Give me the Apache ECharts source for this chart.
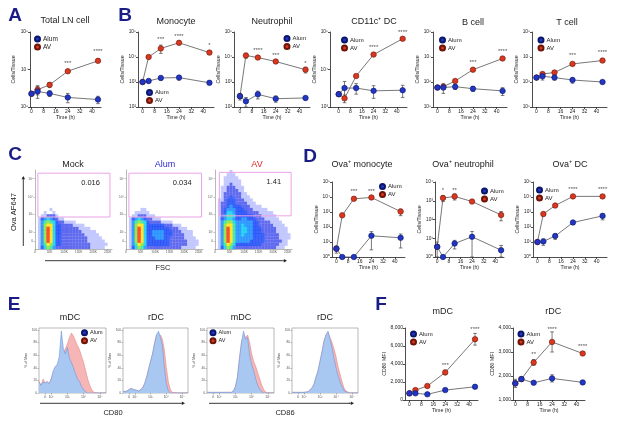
<!DOCTYPE html>
<html>
<head>
<meta charset="utf-8">
<script src="https://cdn.jsdelivr.net/npm/echarts@6.0.0/dist/echarts.min.js"></script>
<style>
html, body { margin: 0; padding: 0; background: #fff; }
#main { width: 617px; height: 425px; }
</style>
</head>
<body>
<div id="main"></div>
<script>
'use strict';

// ---- shared axes values ----
var times = [0, 4, 12, 24, 44];
var timeTicks = [0, 8, 16, 24, 32, 40];

// ---- A: total LN cells ----
var lnAlum = [2.25e6, 2.6e6, 2.3e6, 1.8e6, 1.58e6];
var lnAlumErr = [0.15e6, 0.9e6, 0.4e6, 0.5e6, 0.35e6];
var lnAV = [2.25e6, 2.9e6, 3.9e6, 9.0e6, 1.7e7];
var lnAVErr = [0, 0.8e6, 0.6e6, 0.8e6, 1.2e6];
var lnStars = [[24, 1.5e7, '***'], [44, 3.0e7, '****']];

// ---- B: cell subsets ----
var monoAlum = [1.0e3, 1.1e3, 1.45e3, 1.5e3, 0.93e3];
var monoAlumErr = [0.1e3, 0.2e3, 0.25e3, 0.3e3, 0.15e3];
var monoAV = [1.0e3, 1.0e4, 2.2e4, 3.7e4, 1.5e4];
var monoAVErr = [0, 0.15e4, 0.8e4, 0.6e4, 0.25e4];
var monoStars = [[12, 4.9e4, '***'], [24, 6.6e4, '****'], [44, 2.9e4, '*']];

var neutAlum = [270, 170, 320, 215, 230];
var neutAlumErr = [80, 70, 110, 60, 40];
var neutAV = [270, 1.15e4, 9.5e3, 6.6e3, 3.1e3];
var neutAVErr = [0, 2500, 1200, 1000, 800];
var neutStars = [[12, 1.8e4, '****'], [24, 1.2e4, '***'], [44, 5.5e3, '*']];

var dcAlum = [2.2e3, 3.2e3, 3.2e3, 2.7e3, 2.8e3];
var dcAlumErr = [0.3e3, 1.6e3, 1.0e3, 1.0e3, 1.0e3];
var dcAV = [2.2e3, 1.7e3, 6.7e3, 2.5e4, 6.6e4];
var dcAVErr = [0, 0.4e3, 0.6e3, 2e3, 5e3];
var dcStars = [[24, 3.8e4, '****'], [44, 1.0e5, '****']];

var bAlum = [6e5, 6e5, 6.5e5, 5.4e5, 4.4e5];
var bAlumErr = [0.5e5, 2.5e5, 1.5e5, 1.2e5, 1.5e5];
var bAV = [6e5, 6.5e5, 1.1e6, 3.1e6, 8.7e6];
var bAVErr = [0, 1.5e5, 1e5, 3e5, 8e5];
var bStars = [[24, 6.3e6, '***'], [44, 1.7e7, '****']];

var tAlum = [1.5e6, 1.7e6, 1.5e6, 1.2e6, 1.0e6];
var tAlumErr = [0.1e6, 0.5e6, 0.3e6, 0.3e6, 0.15e6];
var tAV = [1.5e6, 2.1e6, 2.4e6, 5.3e6, 7.2e6];
var tAVErr = [0, 0.3e6, 0.3e6, 0.8e6, 0.7e6];
var tStars = [[24, 1.2e7, '***'], [44, 1.6e7, '****']];

// ---- D: Ova+ cells ----
var ovaMonoAlum = [3.6, 1, 1, 26, 19];
var ovaMonoAlumErr = [1.8, 0, 0, 23, 15];
var ovaMonoAV = [3.6, 600, 7600, 9300, 1070];
var ovaMonoAVErr = [0, 100, 1500, 2500, 500];
var ovaMonoStars = [[12, 2.4e4, '***'], [24, 2.4e4, '***']];

var ovaNeutAlum = [3.5, 1, 5.2, 12, 2.3];
var ovaNeutAlumErr = [2.8, 0, 2.5, 11, 1.8];
var ovaNeutAV = [3.5, 1400, 1700, 910, 175];
var ovaNeutAVErr = [0, 500, 600, 100, 90];
var ovaNeutStars = [[4, 3.4e3, '*'], [12, 3.4e3, '**']];

var ovaDcAlum = [10, 11, 25, 200, 550];
var ovaDcAlumErr = [2, 5, 10, 50, 250];
var ovaDcAV = [10, 740, 2700, 11000, 11000];
var ovaDcAVErr = [0, 200, 400, 1500, 2500];
var ovaDcStars = [[24, 3e4, '****'], [44, 3e4, '****']];

// ---- F: CD80 MFI ----
var mdcAlum = [740, 740, 630, 1100, 1470];
var mdcAlumErr = [100, 80, 60, 150, 150];
var mdcAV = [740, 1100, 1550, 3065, 6750];
var mdcAVErr = [0, 150, 150, 250, 650];
var mdcStars = [[24, 3870, '***'], [44, 7850, '****']];

var rdcAlum = [1693, 1871, 1718, 1900, 1734];
var rdcAlumErr = [170, 80, 50, 150, 70];
var rdcAV = [1693, 1871, 2564, 3419, 2938];
var rdcAVErr = [0, 80, 120, 420, 70];
var rdcStars = [[12, 2896, '**'], [24, 3946, '****'], [44, 3240, '****']];

// ---- C: flow density (level 0-9 per 10K FSC x 4-unit bin, top row first) ----
var fscTicks = [0, 50, 100, 150, 200, 250];
var fscLabels = ['0', '50K', '100K', '150K', '200K', '250K'];
var ovaTickPos = [10, 21.5, 44, 66, 89];
var ovaTickLabels = ['0', '10²', '10³', '10⁴', '10⁵'];

var flowMock = [
    '00000100000000000000000000',
    '00010010000000000000000000',
    '00112221000000000000000000',
    '01345432110000000000000000',
    '01467653221111000000000000',
    '01478853322221111000000000',
    '01479853322222211110000000',
    '01479853322222221111100000',
    '01479853322222222111110000',
    '01479853322222222211111000',
    '01479853322222222211111100',
    '01468753322222222221111110',
    '01357642222222222221111100'
];
var flowAlum = [
    '00000110000000000000000000',
    '00011111000000000000000000',
    '00112221110000000000000000',
    '01345432211100000000000000',
    '01467653222211110000000000',
    '01478853333332221110000000',
    '01479853333333322211100000',
    '01479853344443332221111000',
    '01479853344443332222111000',
    '01479853334443322222111100',
    '01479853333333322222211110',
    '01468753333333322222211110',
    '01357642222222222221111100'
];
var flowAV = [
    '00000100000000000000000000',
    '00001110000000000000000000',
    '00011111000000000000000000',
    '00011111100000000000000000',
    '00011211100000000000000000',
    '00112221110000000000000000',
    '00112222110000000000000000',
    '00122222211000000000000000',
    '00122322211100000000000000',
    '01123332221110000000000000',
    '01223332222111000000000000',
    '01223433322211110000000000',
    '01234443332221111100000000',
    '01235543333222211111000000',
    '01246653333332221111100000',
    '01345543344333222111110000',
    '01467754444443322221111000',
    '01478864454443322222111100',
    '01479864455443332222211110',
    '01479864455443332222211110',
    '01479864454443333222221111',
    '01479864444443333222221111',
    '01479864444433333222222110',
    '01468753333333332222221110',
    '01357642222222222222211100'
];
var gateMock = [10, 40.5, 258, 96];
var gateAlum = [10, 40.5, 260, 96];
var gateAV = [15, 42, 262, 97];

// ---- E: histograms (% of max per channel bin) ----
var histTickPos = [3, 6, 14, 22, 30];
var histTickLabels = ['0', '10²', '10³', '10⁴', '10⁵'];
var pctTicks = [0, 20, 40, 60, 80, 100];
var mdc80Alum = [18, 12, 17, 16, 18, 15, 22, 35, 42, 45, 58, 98, 70, 62, 72, 55, 48, 40, 30, 22, 18, 10, 5, 2, 0, 0, 0, 0, 0, 0, 0, 0, 0, 0];
var mdc80AV = [18, 12, 22, 16, 18, 15, 22, 32, 40, 45, 50, 55, 65, 70, 78, 88, 95, 90, 82, 75, 68, 58, 48, 35, 22, 12, 5, 1, 0, 0, 0, 0, 0, 0];
var rdc80Alum = [2, 3, 3, 4, 7, 8, 5, 3, 3, 4, 8, 15, 25, 38, 50, 62, 78, 92, 98, 88, 75, 40, 15, 4, 0, 0, 0, 0, 0, 0, 0, 0, 0, 0];
var rdc80AV = [2, 3, 3, 4, 7, 8, 5, 3, 3, 4, 8, 15, 25, 38, 50, 62, 78, 92, 95, 92, 85, 68, 40, 18, 6, 1, 0, 0, 0, 0, 0, 0, 0, 0];
var mdc86Alum = [1, 1, 1, 1, 1, 1, 1, 1, 1, 1, 1, 1, 1, 3, 10, 25, 55, 80, 98, 85, 88, 60, 45, 35, 22, 12, 6, 2, 0, 0, 0, 0, 0, 0];
var mdc86AV = [1, 1, 1, 1, 1, 1, 1, 1, 1, 1, 1, 1, 1, 3, 10, 25, 55, 80, 92, 88, 92, 80, 62, 50, 42, 32, 22, 12, 5, 1, 0, 0, 0, 0];
var rdc86Alum = [1, 1, 1, 1, 1, 1, 1, 1, 2, 5, 8, 14, 25, 35, 50, 65, 82, 92, 98, 85, 72, 55, 40, 28, 18, 10, 4, 1, 0, 0, 0, 0, 0, 0];
var rdc86AV = [1, 1, 1, 1, 1, 1, 1, 1, 2, 5, 8, 14, 25, 35, 50, 65, 82, 92, 96, 88, 80, 70, 58, 42, 30, 18, 8, 3, 0, 0, 0, 0, 0, 0];

// ---- styles ----
var FONT = 'Liberation Sans';
var INK = '#222';
var BLUE = '#2236c4', BLUE_EDGE = '#0c1668';
var RED = '#d9371f', RED_EDGE = '#6b1509';
var NAVY = '#1b1d86';
var FLOW_COLORS = ['#fff', 'rgba(40,60,250,0.35)', 'rgba(20,36,232,0.85)', '#0a3cf8', '#0a84ff',
    '#00c8f2', '#18e2a4', '#7ee22a', '#ffe000', '#ff2400'];
var SUP = ['⁰', '¹', '²', '³', '⁴', '⁵', '⁶', '⁷', '⁸', '⁹'];

var grids = [], xAxes = [], yAxes = [], series = [], legends = [], graphics = [];

function pow10Label(v) {
    return '10' + SUP[Math.round(Math.log10(v))];
}

function addGrid(rect, framed) {
    grids.push({
        left: rect[0], top: rect[1], width: rect[2], height: rect[3],
        show: !!framed, borderColor: '#8a8a8a', borderWidth: 0.6, backgroundColor: 'transparent'
    });
    return grids.length - 1;
}

function pairs(xs, ys) {
    return xs.map(function(x, i) { return [x, ys[i]]; });
}

function errData(xs, ys, es, floor) {
    var out = [];
    xs.forEach(function(x, i) {
        if (es[i] > 0) out.push([x, Math.max(ys[i] - es[i], floor), ys[i] + es[i]]);
    });
    return out;
}

function renderErr(params, api) {
    var lo = api.coord([api.value(0), api.value(1)]);
    var hi = api.coord([api.value(0), api.value(2)]);
    var w = 1.8;
    var st = {stroke: '#444', lineWidth: 0.7};
    return {
        type: 'group',
        children: [
            {type: 'line', shape: {x1: lo[0], y1: lo[1], x2: hi[0], y2: hi[1]}, style: st},
            {type: 'line', shape: {x1: lo[0] - w, y1: lo[1], x2: lo[0] + w, y2: lo[1]}, style: st},
            {type: 'line', shape: {x1: hi[0] - w, y1: hi[1], x2: hi[0] + w, y2: hi[1]}, style: st}
        ]
    };
}

function legendAt(pos, size) {
    return {
        left: pos[0], top: pos[1], orient: 'vertical', padding: 0, itemGap: 1,
        itemWidth: 5, itemHeight: 5, icon: 'circle', selectedMode: false,
        data: ['Alum', 'AV'],
        textStyle: {fontSize: size || 6, fontFamily: FONT, color: INK, lineHeight: 5.5, padding: [0, 0, 0, -2]}
    };
}

function starSeries(stars, xi, yi) {
    return {
        type: 'scatter', name: 'significance', xAxisIndex: xi, yAxisIndex: yi, z: 6,
        symbolSize: 1, itemStyle: {color: 'rgba(0,0,0,0)'}, clip: false, silent: true,
        label: {show: true, position: 'inside', fontSize: 6, color: INK, fontFamily: FONT},
        data: stars.map(function(s) {
            return {value: [s[0], s[1]], label: {formatter: s[2]}};
        })
    };
}

function timePanel(p) {
    var g = addGrid(p.rect);
    var isLog = p.yType === 'log';
    xAxes.push({
        gridIndex: g, type: 'value', min: p.x[0], max: p.x[1],
        name: 'Time (h)', nameLocation: 'middle', nameGap: 7.5,
        nameTextStyle: {fontSize: 5.2, fontFamily: FONT, color: INK},
        axisLine: {onZero: false, lineStyle: {color: INK, width: 0.8}},
        axisTick: {customValues: timeTicks, length: 2, lineStyle: {color: INK, width: 0.8}},
        axisLabel: {customValues: timeTicks, fontSize: 5, margin: 2.5, color: INK, fontFamily: FONT},
        splitLine: {show: false}
    });
    yAxes.push({
        gridIndex: g, type: p.yType, logBase: 10, min: p.y[0], max: p.y[1],
        name: p.yName, nameLocation: 'middle', nameGap: p.nameGap,
        nameTextStyle: {fontSize: 5.2, fontFamily: FONT, color: INK},
        axisLine: {show: true, onZero: false, lineStyle: {color: INK, width: 0.8}},
        axisTick: {customValues: p.yTicks, length: 2, lineStyle: {color: INK, width: 0.8}},
        axisLabel: {
            customValues: p.yTicks, fontSize: isLog ? 4.8 : 5, margin: 2, color: INK, fontFamily: FONT,
            formatter: isLog ? pow10Label : '{value}'
        },
        minorTick: {show: false}, splitLine: {show: false}
    });
    var xi = xAxes.length - 1, yi = yAxes.length - 1;
    [['AV', p.av, p.avErr, RED, RED_EDGE], ['Alum', p.alum, p.alumErr, BLUE, BLUE_EDGE]].forEach(function(s, k) {
        series.push({
            type: 'custom', name: s[0] + ' error', xAxisIndex: xi, yAxisIndex: yi, z: 1,
            renderItem: renderErr, encode: {x: 0, y: [1, 2]}, clip: false, silent: true,
            data: errData(times, s[1], s[2], p.y[0])
        });
        series.push({
            type: 'line', name: s[0], xAxisIndex: xi, yAxisIndex: yi, z: 3 + k,
            data: pairs(times, s[1]), symbol: 'circle', symbolSize: 5.5, showAllSymbol: true, clip: false,
            itemStyle: {color: s[3], borderColor: s[4], borderWidth: 0.6},
            lineStyle: {color: '#555', width: 0.8}
        });
    });
    series.push(starSeries(p.stars, xi, yi));
    legends.push(legendAt(p.legend, p.legendSize));
}

function densityPoints(rows) {
    var pts = [];
    rows.forEach(function(row, i) {
        var r = rows.length - 1 - i;
        for (var c = 0; c < row.length; c++) {
            var lv = +row[c];
            if (lv > 0) pts.push([5 + 10 * c, 2 + 4 * r, lv]);
        }
    });
    return pts.sort(function(a, b) { return a[2] - b[2]; });
}

function flowPanel(p) {
    var g = addGrid(p.rect);
    xAxes.push({
        gridIndex: g, type: 'value', min: 0, max: 265,
        axisLine: {onZero: false, lineStyle: {color: '#888', width: 0.6}},
        axisTick: {customValues: fscTicks, length: 1.5, lineStyle: {color: '#888', width: 0.5}},
        axisLabel: {
            customValues: fscTicks, fontSize: 3.2, margin: 2, color: '#555', fontFamily: FONT,
            formatter: function(v) { return fscLabels[fscTicks.indexOf(v)]; }
        },
        splitLine: {show: false}
    });
    yAxes.push({
        gridIndex: g, type: 'value', min: 0, max: 100,
        axisLine: {onZero: false, lineStyle: {color: '#888', width: 0.6}},
        axisTick: {customValues: ovaTickPos, length: 1.5, lineStyle: {color: '#888', width: 0.5}},
        axisLabel: {
            customValues: ovaTickPos, fontSize: 3.2, margin: 2, color: '#555', fontFamily: FONT,
            formatter: function(v) { return ovaTickLabels[ovaTickPos.indexOf(v)]; }
        },
        splitLine: {show: false}
    });
    var xi = xAxes.length - 1, yi = yAxes.length - 1;
    series.push({
        type: 'scatter', name: p.name + ' events', xAxisIndex: xi, yAxisIndex: yi, z: 2, silent: true,
        data: densityPoints(p.rows), symbol: 'rect',
        symbolSize: function(v) { return v[2] <= 2 ? [2.95, 3.2] : [3.3, 3.5]; },
        itemStyle: {color: function(d) { return FLOW_COLORS[d.value[2]]; }}
    });
    series.push({
        type: 'custom', name: p.name + ' gate', xAxisIndex: xi, yAxisIndex: yi, z: 3, silent: true,
        encode: {x: [0, 2], y: [1, 3]}, data: [p.gate],
        renderItem: function(params, api) {
            var tl = api.coord([api.value(0), api.value(3)]);
            var br = api.coord([api.value(2), api.value(1)]);
            return {
                type: 'group',
                children: [
                    {type: 'rect', shape: {x: tl[0], y: tl[1], width: br[0] - tl[0], height: br[1] - tl[1]},
                     style: {fill: 'none', stroke: '#e9a3e6', lineWidth: 1}},
                    {type: 'text', x: br[0] - 10, y: tl[1] + 10,
                     style: {text: p.pct, fontSize: 7.5, fontFamily: FONT, fill: INK, align: 'right', verticalAlign: 'middle'}}
                ]
            };
        }
    });
}

function histPanel(p) {
    var g = addGrid(p.rect, true);
    xAxes.push({
        gridIndex: g, type: 'value', min: 0, max: 33,
        axisLine: {show: false},
        axisTick: {customValues: histTickPos, length: 1.5, lineStyle: {color: '#777', width: 0.5}},
        axisLabel: {
            customValues: histTickPos, fontSize: 3.5, margin: 2, color: '#555', fontFamily: FONT,
            formatter: function(v) { return histTickLabels[histTickPos.indexOf(v)]; }
        },
        splitLine: {show: false}
    });
    yAxes.push({
        gridIndex: g, type: 'value', min: 0, max: 103,
        name: '% of Max', nameLocation: 'middle', nameGap: 7,
        nameTextStyle: {fontSize: 3.5, fontFamily: FONT, color: '#444'},
        axisLine: {show: false},
        axisTick: {show: true, customValues: pctTicks, length: 1.5, lineStyle: {color: '#777', width: 0.5}},
        axisLabel: {customValues: pctTicks, fontSize: 3.2, margin: 2, color: '#555', fontFamily: FONT},
        splitLine: {show: false}
    });
    var xi = xAxes.length - 1, yi = yAxes.length - 1;
    var idx = p.av.map(function(v, i) { return i; });
    series.push({
        type: 'line', name: p.name + ' AV', xAxisIndex: xi, yAxisIndex: yi, z: 2, silent: true,
        data: pairs(idx, p.av), symbol: 'none',
        lineStyle: {color: '#e48888', width: 0.6},
        areaStyle: {color: '#f6b6b6', opacity: 1}
    });
    series.push({
        type: 'line', name: p.name + ' Alum', xAxisIndex: xi, yAxisIndex: yi, z: 3, silent: true,
        data: pairs(idx, p.alum), symbol: 'none',
        lineStyle: {color: '#6f95dc', width: 0.6},
        areaStyle: {color: '#a9c8f1', opacity: 1}
    });
    if (p.legend) legends.push(legendAt(p.legend, 5.5));
}

function textEl(str, x, y, size, extra) {
    extra = extra || {};
    return {
        type: 'text', x: x, y: y, rotation: extra.rotation || 0, silent: true,
        style: {
            text: str, fontSize: size, fontFamily: FONT,
            fontWeight: extra.weight || 'normal', fill: extra.color || INK,
            align: 'center', verticalAlign: 'middle'
        }
    };
}

function arrowEls(x1, y1, x2, y2) {
    var ang = Math.atan2(y2 - y1, x2 - x1), s = 3.2;
    var bx = x2 - s * Math.cos(ang), by = y2 - s * Math.sin(ang);
    var ox = 0.55 * s * Math.sin(ang), oy = 0.55 * s * Math.cos(ang);
    return [
        {type: 'line', silent: true, shape: {x1: x1, y1: y1, x2: bx, y2: by}, style: {stroke: INK, lineWidth: 0.9}},
        {type: 'polygon', silent: true, shape: {points: [[x2, y2], [bx + ox, by - oy], [bx - ox, by + oy]]}, style: {fill: INK}}
    ];
}

// ---- A & B ----
timePanel({rect: [30, 32, 71, 75], x: [-1, 46], yType: 'log', y: [1e6, 1e8], yTicks: [1e6, 1e7, 1e8],
    yName: 'Cells/Tissue', nameGap: 14, alum: lnAlum, alumErr: lnAlumErr, av: lnAV, avErr: lnAVErr,
    stars: lnStars, legend: [34, 35.5], legendSize: 6.5});
timePanel({rect: [138, 32, 76, 75], x: [-3, 47], yType: 'log', y: [1e2, 1e5], yTicks: [1e2, 1e3, 1e4, 1e5],
    yName: 'Cells/Tissue', nameGap: 10.5, alum: monoAlum, alumErr: monoAlumErr, av: monoAV, avErr: monoAVErr,
    stars: monoStars, legend: [146, 89]});
timePanel({rect: [234, 32, 76, 75], x: [-4, 47], yType: 'log', y: [1e2, 1e5], yTicks: [1e2, 1e3, 1e4, 1e5],
    yName: 'Cells/Tissue', nameGap: 10.5, alum: neutAlum, alumErr: neutAlumErr, av: neutAV, avErr: neutAVErr,
    stars: neutStars, legend: [283.5, 35]});
timePanel({rect: [330, 32, 77, 75], x: [-6, 47], yType: 'log', y: [1e3, 1e5], yTicks: [1e3, 1e4, 1e5],
    yName: 'Cells/Tissue', nameGap: 10.5, alum: dcAlum, alumErr: dcAlumErr, av: dcAV, avErr: dcAVErr,
    stars: dcStars, legend: [341, 36.5]});
timePanel({rect: [433, 32, 74, 75], x: [-3, 47], yType: 'log', y: [1e5, 1e8], yTicks: [1e5, 1e6, 1e7, 1e8],
    yName: 'Cells/Tissue', nameGap: 10.5, alum: bAlum, alumErr: bAlumErr, av: bAV, avErr: bAVErr,
    stars: bStars, legend: [439, 36.5]});
timePanel({rect: [532, 32, 75, 75], x: [-3, 47], yType: 'log', y: [1e5, 1e8], yTicks: [1e5, 1e6, 1e7, 1e8],
    yName: 'Cells/Tissue', nameGap: 10.5, alum: tAlum, alumErr: tAlumErr, av: tAV, avErr: tAVErr,
    stars: tStars, legend: [537.5, 36.5]});

// ---- C ----
flowPanel({name: 'Mock', rect: [35, 170, 77, 79], rows: flowMock, gate: gateMock, pct: '0.016'});
flowPanel({name: 'Alum', rect: [126, 170, 77, 79], rows: flowAlum, gate: gateAlum, pct: '0.034'});
flowPanel({name: 'AV', rect: [215, 170, 77, 79], rows: flowAV, gate: gateAV, pct: '1.41'});

// ---- D ----
timePanel({rect: [332, 182, 73, 75], x: [-3, 47], yType: 'log', y: [1, 1e5], yTicks: [1, 10, 1e2, 1e3, 1e4, 1e5],
    yName: 'Cells/Tissue', nameGap: 11, alum: ovaMonoAlum, alumErr: ovaMonoAlumErr, av: ovaMonoAV, avErr: ovaMonoAVErr,
    stars: ovaMonoStars, legend: [379, 183]});
timePanel({rect: [435, 182, 69, 75], x: [-1.5, 46], yType: 'log', y: [1, 1e4], yTicks: [1, 10, 1e2, 1e3, 1e4],
    yName: 'Cells/Tissue', nameGap: 10.5, alum: ovaNeutAlum, alumErr: ovaNeutAlumErr, av: ovaNeutAV, avErr: ovaNeutAVErr,
    stars: ovaNeutStars, legend: [481, 187.5]});
timePanel({rect: [533, 182, 74, 75], x: [-3, 47], yType: 'log', y: [1, 1e5], yTicks: [1, 10, 1e2, 1e3, 1e4, 1e5],
    yName: 'Cells/Tissue', nameGap: 10.5, alum: ovaDcAlum, alumErr: ovaDcAlumErr, av: ovaDcAV, avErr: ovaDcAVErr,
    stars: ovaDcStars, legend: [536, 186.5]});

// ---- E ----
histPanel({name: 'mDC CD80', rect: [39, 328, 67, 65], alum: mdc80Alum, av: mdc80AV, legend: [81, 329.2]});
histPanel({name: 'rDC CD80', rect: [123, 328, 65, 65], alum: rdc80Alum, av: rdc80AV});
histPanel({name: 'mDC CD86', rect: [207, 328, 67, 65], alum: mdc86Alum, av: mdc86AV, legend: [209.5, 329.2]});
histPanel({name: 'rDC CD86', rect: [292, 328, 66, 65], alum: rdc86Alum, av: rdc86AV});

// ---- F ----
timePanel({rect: [405, 328, 73, 72], x: [-3, 46], yType: 'value', y: [0, 8000], yTicks: [0, 2000, 4000, 6000, 8000],
    yName: 'CD80 MFI', nameGap: 18, alum: mdcAlum, alumErr: mdcAlumErr, av: mdcAV, avErr: mdcAVErr,
    stars: mdcStars, legend: [410, 330.5]});
timePanel({rect: [513, 328, 72, 72], x: [-1.5, 45.5], yType: 'value', y: [1000, 4000], yTicks: [1000, 2000, 3000, 4000],
    yName: 'CD80 MFI', nameGap: 17, alum: rdcAlum, alumErr: rdcAlumErr, av: rdcAV, avErr: rdcAVErr,
    stars: rdcStars, legend: [517.5, 330.5]});

// ---- letters, titles, arrows ----
[['A', 15, 16], ['B', 125, 16], ['C', 15, 155], ['D', 310, 157], ['E', 14, 305], ['F', 381, 305]].forEach(function(l) {
    graphics.push(textEl(l[0], l[1], l[2], 19, {weight: 'bold', color: NAVY}));
});
[['Total LN cell', 65, 21], ['Monocyte', 176, 21.5], ['Neutrophil', 272, 21.5], ['CD11c⁺ DC', 374, 22],
 ['B cell', 473, 22.5], ['T cell', 567, 22.5],
 ['Mock', 73, 165], ['Ova⁺ monocyte', 362, 165], ['Ova⁺ neutrophil', 463, 165], ['Ova⁺ DC', 570, 165],
 ['mDC', 70, 318], ['rDC', 156, 318], ['mDC', 241, 318], ['rDC', 325, 318],
 ['mDC', 442.7, 312], ['rDC', 553.3, 312]].forEach(function(t) {
    graphics.push(textEl(t[0], t[1], t[2], 9));
});
graphics.push(textEl('Alum', 165, 165, 9, {color: '#2a2ad6'}));
graphics.push(textEl('AV', 257, 165, 9, {color: '#e8231c'}));
graphics.push(textEl('Ova AF647', 14, 212, 7.5, {rotation: Math.PI / 2}));
graphics.push(textEl('FSC', 163, 268, 7.5));
graphics.push(textEl('CD80', 113, 413, 7.5));
graphics.push(textEl('CD86', 285, 413, 7.5));
graphics = graphics.concat(arrowEls(23.3, 246, 23.3, 176));
graphics = graphics.concat(arrowEls(45, 260.7, 287, 260.7));
graphics = graphics.concat(arrowEls(40, 403.3, 185, 403.3));
graphics.push({type: 'line', silent: true, shape: {x1: 209, y1: 403.3, x2: 350, y2: 403.3}, style: {stroke: INK, lineWidth: 0.9}});
graphics = graphics.concat(arrowEls(349, 403.3, 354, 403.3));

var chart = echarts.init(document.getElementById('main'));
chart.setOption({
    animation: false,
    backgroundColor: '#fff',
    textStyle: {fontFamily: FONT},
    grid: grids,
    xAxis: xAxes,
    yAxis: yAxes,
    legend: legends,
    series: series,
    graphic: {elements: graphics}
});
</script>
</body>
</html>
